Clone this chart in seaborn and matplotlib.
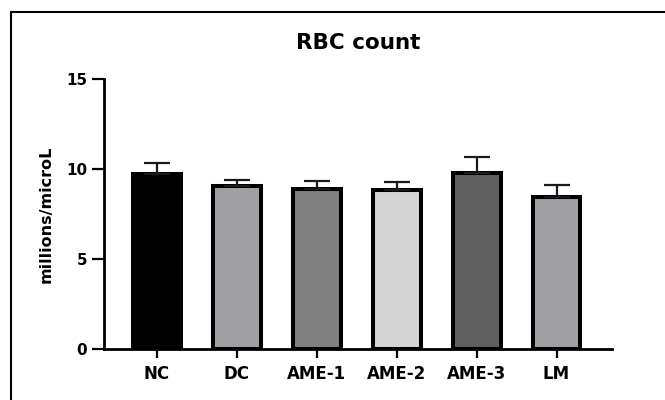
import matplotlib
matplotlib.use("Agg")
import matplotlib.pyplot as plt
from matplotlib.patches import Rectangle
import seaborn as sns
import numpy as np

# data
groups = ["NC", "DC", "AME-1", "AME-2", "AME-3", "LM"]
means = [9.76, 9.09, 8.92, 8.85, 9.79, 8.44]
sem = [0.59, 0.33, 0.43, 0.46, 0.88, 0.67]
colors = ["#000000", "#a0a0a4", "#808080", "#d4d4d4", "#606060", "#a0a0a4"]

sns.set_style("ticks")
plt.rcParams["font.family"] = ["DejaVu Sans"]
plt.rcParams["font.weight"] = "bold"
for key in ["text.color", "axes.labelcolor", "xtick.color", "ytick.color", "axes.edgecolor"]:
    plt.rcParams[key] = "black"

fig = plt.figure(figsize=(6.65, 4.0), dpi=100)
ax = fig.add_axes([0.1564, 0.12675, 0.7634, 0.675])

sns.barplot(x=groups, y=means, hue=groups, palette=colors, legend=False,
            width=0.6, edgecolor="black", linewidth=2.9, errorbar=None,
            saturation=1, ax=ax)

# one-sided SEM bars
ax.errorbar(np.arange(len(groups)), means, yerr=[np.zeros(len(sem)), sem],
            fmt="none", ecolor="#1a1a1a", elinewidth=1.6, capsize=9.7,
            capthick=1.6, zorder=1)

ax.set_xlim(-0.66, 5.69)
ax.set_ylim(0, 15)
ax.set_yticks([0, 5, 10, 15])

for side in ["top", "right"]:
    ax.spines[side].set_visible(False)
for side in ["left", "bottom"]:
    ax.spines[side].set_linewidth(2)
    ax.spines[side].set_color("black")
    ax.spines[side].set_zorder(5)

ax.tick_params(axis="y", length=8.5, width=1.6, pad=3.5, labelsize=11, colors="black")
ax.tick_params(axis="x", length=6.5, width=1.6, pad=5, labelsize=12, colors="black")
for lab in ax.get_xticklabels() + ax.get_yticklabels():
    lab.set_fontweight("bold")

ax.set_xlabel("")
ax.set_ylabel("millions/microL", fontsize=11.5, fontweight="bold", color="black")
ax.yaxis.set_label_coords(-0.1, 0.5)

fig.text(0.538, 0.877, "RBC count", ha="center", va="baseline",
         fontsize=15.5, fontweight="bold", color="black")

# frame around the figure (right/bottom edges fall outside the picture)
fig.patches.append(Rectangle((11 / 665, -0.5), 2, 0.97 + 0.5,
                             transform=fig.transFigure, fill=False,
                             edgecolor="black", linewidth=1.5))

fig.savefig("out.png", dpi=100)
